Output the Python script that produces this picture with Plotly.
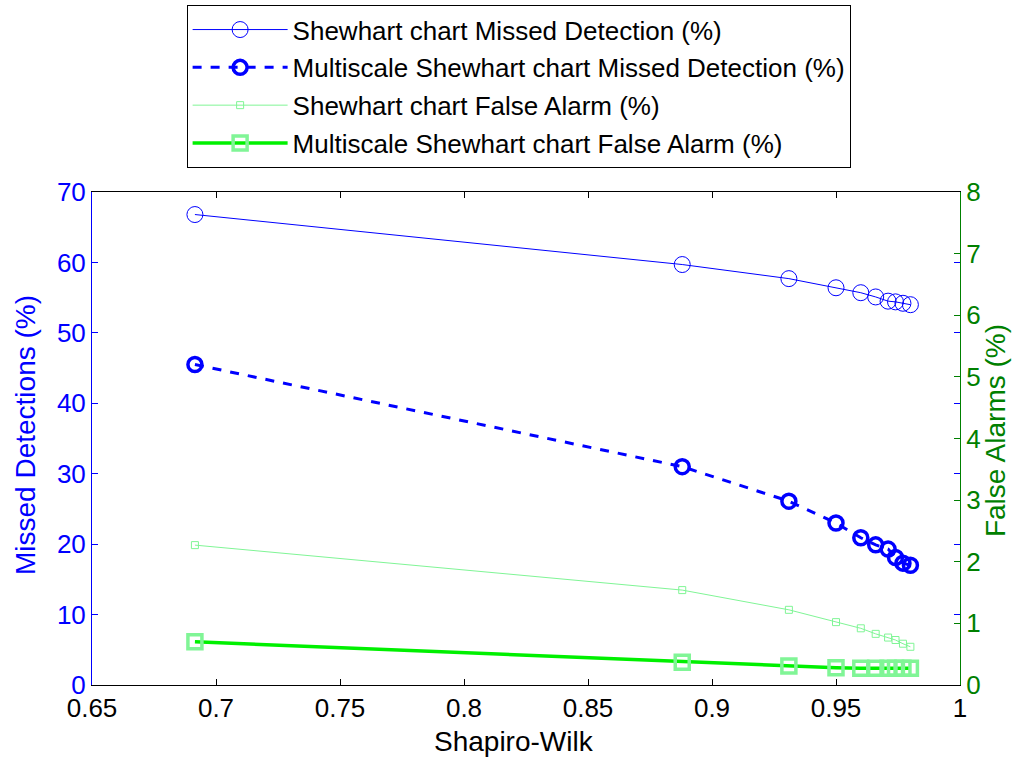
import plotly.graph_objects as go

sw = [0.6915, 0.888, 0.931, 0.950, 0.960, 0.966, 0.971, 0.974, 0.977, 0.980]
shew_md = [66.8, 59.7, 57.7, 56.4, 55.7, 55.1, 54.5, 54.4, 54.2, 54.0]
ms_md = [45.5, 31.0, 26.1, 23.0, 20.9, 19.9, 19.3, 18.1, 17.3, 17.0]
shew_fa = [2.27, 1.54, 1.22, 1.02, 0.92, 0.83, 0.77, 0.73, 0.67, 0.62]
ms_fa = [0.70, 0.37, 0.31, 0.28, 0.27, 0.27, 0.27, 0.27, 0.27, 0.27]

names = ["Shewhart chart Missed Detection (%)",
         "Multiscale Shewhart chart Missed Detection (%)",
         "Shewhart chart False Alarm (%)",
         "Multiscale Shewhart chart False Alarm (%)"]
x_title = "Shapiro-Wilk"
y_title = "Missed Detections (%)"
y2_title = "False Alarms (%)"

LG = "rgb(128,245,150)"
FONT = "Liberation Sans, Arial, sans-serif"

fig = go.Figure()
fig.add_trace(go.Scatter(x=sw, y=shew_md, name=names[0], mode="lines+markers",
                         line=dict(color="blue", width=1),
                         marker=dict(symbol="circle-open", size=16, color="blue", line=dict(width=1)),
                         legendgroup="a"))
fig.add_trace(go.Scatter(x=sw, y=ms_md, name=names[1], mode="lines+markers",
                         line=dict(color="blue", width=3, dash="dash"),
                         marker=dict(symbol="circle-open", size=14, color="blue", line=dict(width=3.5)),
                         legendgroup="b"))
fig.add_trace(go.Scatter(x=sw, y=shew_fa, name=names[2], mode="lines+markers", yaxis="y2",
                         line=dict(color=LG, width=1),
                         marker=dict(symbol="square-open", size=7, color=LG, line=dict(width=1)),
                         legendgroup="c"))
fig.add_trace(go.Scatter(x=sw, y=ms_fa, name=names[3], mode="lines+markers", yaxis="y2",
                         line=dict(color="rgb(0,240,0)", width=3.5),
                         marker=dict(symbol="square-open", size=14, color=LG, line=dict(width=3.5)),
                         legendgroup="d"))

fig.update_layout(
    width=1013, height=757,
    margin=dict(l=92, r=53, t=192, b=72, autoexpand=False),
    paper_bgcolor="white", plot_bgcolor="white",
    font=dict(family=FONT, size=26, color="black"),
    xaxis=dict(range=[0.65, 1.0], tickvals=[0.65, 0.7, 0.75, 0.8, 0.85, 0.9, 0.95, 1.0],
               ticktext=["0.65", "0.7", "0.75", "0.8", "0.85", "0.9", "0.95", "1"],
               ticks="inside", ticklen=6, tickcolor="black", showline=True, linecolor="black",
               mirror="ticks", showgrid=False, zeroline=False,
               tickfont=dict(size=26, color="black")),
    yaxis=dict(range=[0, 70], dtick=10, ticks="inside", ticklen=6, tickcolor="blue",
               showline=True, linecolor="blue", mirror="ticks", showgrid=False, zeroline=False,
               tickfont=dict(size=26, color="blue")),
    yaxis2=dict(range=[0, 8], dtick=1, overlaying="y", side="right", ticks="inside", ticklen=6,
                tickcolor="green", showline=True, linecolor="green", showgrid=False, zeroline=False,
                tickfont=dict(size=26, color="green")),
    legend=dict(x=0.109, y=1.379, xanchor="left", yanchor="top",
                bordercolor="black", borderwidth=1, bgcolor="white",
                font=dict(size=26, color="black"), tracegroupgap=1,
                itemwidth=95),
    showlegend=True,
    annotations=[
        dict(text=x_title, xref="paper", yref="paper", x=0.486, y=-0.1156,
             xanchor="center", yanchor="middle", showarrow=False,
             font=dict(size=28, color="black")),
        dict(text=y_title, xref="paper", yref="paper", x=-0.0772, y=0.507,
             xanchor="center", yanchor="middle", showarrow=False, textangle=-90,
             font=dict(size=28, color="blue")),
        dict(text=y2_title, xref="paper", yref="paper", x=1.0403, y=0.517,
             xanchor="center", yanchor="middle", showarrow=False, textangle=-90,
             font=dict(size=28, color="green")),
    ],
)

fig.write_html("out.html")
